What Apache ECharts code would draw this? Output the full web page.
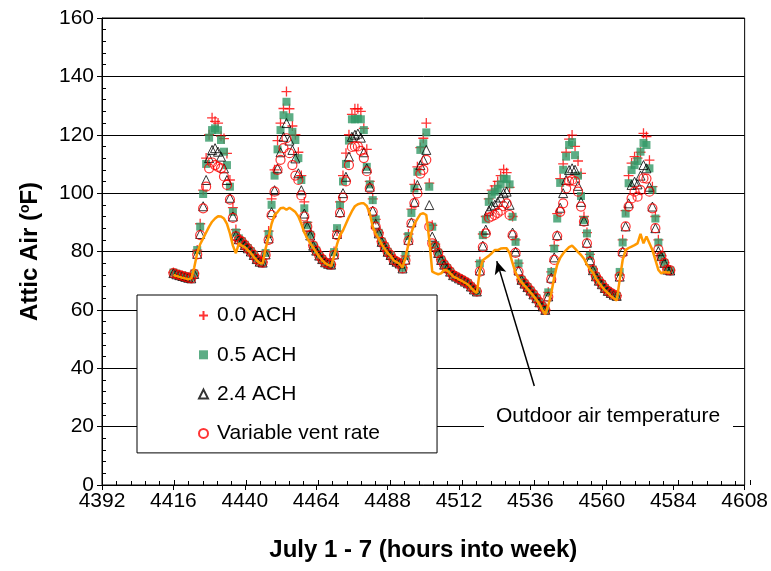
<!DOCTYPE html>
<html>
<head>
<meta charset="utf-8">
<script src="https://cdn.jsdelivr.net/npm/echarts@6/dist/echarts.min.js"></script>
<style>
  html, body { margin: 0; padding: 0; background: #fff; }
  #chart { width: 771px; height: 571px; }
</style>
</head>
<body>
<div id="chart"></div>
<script>
// ---------------- data (hourly, first point at hour 4416) ----------------
const firstHour = 4416;
const xMin = 4392, xMax = 4608, xStep = 24;
const yMin = 0, yMax = 160, yStep = 20;
const seriesNames = ['0.0 ACH', '0.5 ACH', '2.4 ACH', 'Variable vent rate'];
const outdoorName = 'Outdoor air temperature';

// 0.0 ACH (red +)
const ach00 = [
  72.8,72.4,72.0,71.8,71.5,71.2,71.0,72.6,80.5,89.5,101.0,112.0,120.0,125.8,124.6,124.0,119.5,118.7,113.6,104.5,95.0,87.5,84.8,83.6,
  82.4,81.3,80.2,79.0,77.6,76.7,76.4,80.0,87.0,98.0,108.0,118.0,124.0,129.0,134.8,128.9,123.0,120.0,114.0,106.0,97.0,90.0,86.0,82.2,
  80.4,78.7,77.5,76.4,75.9,75.6,80.0,87.0,97.0,106.0,113.7,120.0,127.0,128.9,128.9,128.0,122.2,115.0,104.0,98.0,91.0,86.5,83.5,81.9,
  80.0,78.9,77.2,76.6,76.0,74.5,78.5,86.0,94.5,103.0,109.0,115.6,118.8,124.0,103.4,89.0,82.5,79.8,77.3,75.6,74.4,73.2,72.0,71.5,
  70.9,70.4,69.8,69.2,68.1,67.1,66.4,76.5,86.0,92.0,98.0,101.0,102.5,104.0,106.0,108.1,107.0,102.0,92.0,84.0,76.0,70.4,69.1,67.9,
  66.7,65.4,64.1,62.7,61.3,60.1,66.0,73.0,82.0,93.0,105.0,110.0,114.0,118.5,119.9,116.0,111.0,106.8,92.0,86.5,79.0,74.0,71.6,70.1,
  68.9,67.6,66.6,65.9,65.3,64.9,72.0,84.0,94.0,106.0,110.3,112.5,112.0,114.0,120.5,119.4,111.3,102.2,92.0,84.0,78.6,76.2,74.0,73.6
];
// 0.5 ACH (green squares)
const ach05 = [
  72.8,72.4,72.0,71.8,71.5,71.2,71.0,72.5,80.5,88.5,99.7,110.0,119.0,121.6,122.2,121.6,118.2,114.2,109.6,102.2,93.6,86.5,84.5,83.5,
  82.3,81.2,80.1,78.9,77.5,76.6,76.3,79.5,86.0,96.0,106.0,115.0,121.6,126.7,131.3,126.0,121.0,118.2,112.0,104.5,94.8,89.0,85.7,82.0,
  80.3,78.6,77.4,76.3,75.8,75.5,79.8,88.0,96.0,104.0,110.0,118.0,125.3,125.3,125.5,125.3,121.6,109.0,103.0,97.6,91.0,86.4,83.4,81.8,
  79.9,78.8,77.1,76.5,75.9,74.4,78.5,85.3,93.2,101.6,107.3,114.8,117.1,120.8,102.2,88.5,82.2,79.6,77.2,75.5,74.3,73.1,71.9,71.4,
  70.8,70.3,69.7,69.1,68.0,67.0,66.3,75.9,85.6,91.0,97.0,99.5,100.5,101.5,103.0,105.0,104.8,103.0,91.9,83.3,75.9,70.3,69.0,67.8,
  66.6,65.3,64.0,62.6,61.2,60.0,66.0,73.0,81.0,91.3,103.5,108.0,112.5,116.5,117.5,113.0,106.0,99.0,90.8,86.2,78.5,73.8,71.5,70.0,
  68.8,67.5,66.5,65.8,65.2,64.8,73.0,83.1,93.0,103.4,107.9,109.6,111.0,114.2,117.2,116.5,108.5,101.1,91.3,83.1,78.5,76.1,73.9,73.5
];
// 2.4 ACH (black triangles)
const ach24 = [
  72.6,72.2,71.9,71.6,71.3,71.0,70.8,72.3,79.2,86.0,95.5,104.5,112.0,114.8,115.4,114.2,112.5,108.5,104.5,98.4,92.0,85.5,84.2,83.4,
  82.2,81.1,80.0,78.8,77.4,76.5,76.2,79.0,84.5,93.5,101.0,108.5,114.0,119.3,124.0,118.0,114.8,111.9,106.8,101.0,93.0,88.5,85.5,82.0,
  80.3,78.6,77.4,76.3,75.8,75.5,79.0,86.0,93.5,100.0,105.6,112.5,119.3,120.0,120.4,119.0,114.0,108.5,102.2,94.0,89.5,86.2,83.3,81.7,
  79.9,78.8,77.1,76.5,75.9,74.2,77.2,84.0,90.0,97.0,102.8,109.6,111.4,114.8,95.9,85.1,81.7,79.5,77.1,75.5,74.3,73.1,71.9,71.4,
  70.8,70.3,69.7,69.1,68.0,67.0,66.3,73.5,82.0,87.5,94.0,95.5,96.0,97.0,98.5,100.0,100.5,96.0,86.5,80.0,73.5,70.3,69.0,67.8,
  66.6,65.3,64.0,62.6,61.2,60.0,64.6,71.0,78.0,85.6,95.0,100.0,104.5,107.9,108.5,108.0,102.5,97.0,90.5,83.0,77.0,73.6,71.5,70.0,
  68.8,67.5,66.5,65.8,65.2,64.8,71.4,80.1,88.6,96.5,102.8,103.9,103.0,106.0,109.6,108.5,102.2,95.4,88.0,80.1,78.4,76.1,73.8,73.5
];
// Variable vent rate (red open circles)
const varVent = [
  72.6,72.2,71.9,71.6,71.3,71.0,70.8,72.3,79.0,85.6,94.8,102.2,108.5,110.5,109.6,109.0,108.5,105.7,102.8,97.8,91.5,85.2,84.0,83.4,
  82.2,81.1,80.0,78.8,77.4,76.5,76.2,78.8,84.0,92.5,100.5,108.0,111.4,115.4,118.8,113.7,109.6,106.0,104.5,99.2,92.0,88.5,85.5,82.0,
  80.3,78.6,77.4,76.3,75.8,75.5,78.8,85.6,93.2,98.5,104.0,109.6,115.8,116.0,116.0,114.5,112.0,107.5,101.6,93.6,88.5,86.2,83.3,81.7,
  79.9,78.8,77.1,76.5,75.9,74.2,77.0,83.6,89.6,96.6,99.9,106.7,108.0,111.4,88.5,82.8,81.7,79.5,77.1,75.5,74.3,73.1,71.9,71.4,
  70.8,70.3,69.7,69.1,68.0,67.0,66.3,73.1,81.5,86.2,91.6,92.0,92.5,93.2,94.0,95.5,96.5,92.5,85.6,79.5,73.1,70.3,69.0,67.8,
  66.6,65.3,64.0,62.6,61.2,60.0,64.5,70.5,77.1,85.3,93.6,96.5,101.6,104.0,104.5,104.0,100.5,95.4,90.2,82.8,76.5,73.6,71.5,70.0,
  68.8,67.5,66.5,65.8,65.2,64.8,71.4,79.5,88.6,95.4,98.2,100.5,98.8,101.0,105.1,105.0,100.5,94.8,88.0,80.7,78.4,76.1,73.8,73.5
];
// Outdoor air temperature (orange line)
const outdoor = [
  72.0,71.6,71.3,71.0,70.8,70.5,70.8,74.5,79.5,82.5,84.5,86.5,88.5,90.2,91.3,92.1,92.0,91.3,89.5,86.2,82.0,79.4,82.8,82.0,
  81.5,80.5,79.5,78.2,77.0,76.0,76.0,81.0,85.0,89.5,92.5,93.5,94.8,95.0,94.3,95.0,94.3,93.5,92.0,89.5,86.5,84.5,82.8,81.3,
  79.8,78.2,77.0,76.0,75.4,75.0,78.5,82.5,85.5,87.2,89.5,91.8,93.8,95.5,96.2,96.5,96.5,95.6,93.0,88.5,86.0,84.5,82.5,81.0,
  79.5,78.5,77.0,76.4,75.8,74.5,78.0,82.5,86.5,89.5,91.2,92.8,93.1,92.5,84.0,73.1,72.6,72.2,72.5,73.7,73.5,72.6,71.5,71.0,
  70.4,69.9,69.3,68.7,67.6,66.5,65.8,73.5,77.0,77.8,78.5,79.4,80.5,80.5,81.0,81.1,81.1,79.5,76.0,72.8,70.8,69.5,68.3,67.2,
  66.0,64.8,63.5,62.0,60.0,58.5,61.5,65.7,71.2,75.5,77.8,79.3,80.5,81.5,82.0,81.0,79.8,78.8,77.5,75.5,74.0,72.8,70.8,69.3,
  68.0,66.8,65.8,64.8,64.0,63.2,70.3,77.1,80.5,81.2,81.7,82.2,82.8,86.0,82.8,85.1,82.8,80.5,77.1,73.7,72.5,73.0,72.8,72.8
];
// annotation arrow (data coordinates): tail -> tip
const arrowTail = [4537.3, 33.9];
const arrowTip = [4524.7, 76.7];

// ---------------- chart ----------------
const font = "'Liberation Sans', Arial, sans-serif";
const toPoints = arr => arr.map((v, i) => [firstHour + i, v]);
const box = { left: 102, right: 21, top: 18, bottom: 86 };

const scatterBase = { type: 'scatter', xAxisIndex: 0, yAxisIndex: 0, symbolKeepAspect: true, silent: true };

const option = {
  animation: false,
  backgroundColor: '#fff',
  textStyle: { fontFamily: font },
  grid: [
    Object.assign({ show: true, borderColor: '#000', borderWidth: 1, backgroundColor: 'transparent' }, box),
    Object.assign({ show: false }, box)
  ],
  xAxis: [
    {
      gridIndex: 0, type: 'value', min: xMin, max: xMax, interval: xStep,
      axisLine: { show: true, onZero: false, lineStyle: { color: '#000', width: 1 } },
      axisTick: { show: true, inside: false, length: 5, lineStyle: { color: '#000' } },
      axisLabel: { fontSize: 21, color: '#000', margin: 6, fontFamily: font, formatter: v => String(v) },
      splitLine: { show: false },
      name: 'July 1 - 7 (hours into week)', nameLocation: 'middle', nameGap: 53,
      nameTextStyle: { fontSize: 24, fontWeight: 'bold', color: '#000', fontFamily: font }
    },
    {
      gridIndex: 1, type: 'value', min: xMin, max: xMax, interval: xStep,
      axisLine: { show: false },
      axisTick: { show: true, inside: true, length: 5, lineStyle: { color: '#000' } },
      minorTick: { show: true, splitNumber: 5, length: 4, lineStyle: { color: '#000' } },
      axisLabel: { show: false }, splitLine: { show: false }
    }
  ],
  yAxis: [
    {
      gridIndex: 0, type: 'value', min: yMin, max: yMax, interval: yStep,
      axisLine: { show: true, onZero: false, lineStyle: { color: '#000', width: 1 } },
      axisTick: { show: true, inside: false, length: 5, lineStyle: { color: '#000' } },
      axisLabel: { fontSize: 21, color: '#000', margin: 8, fontFamily: font, formatter: v => String(v) },
      splitLine: { show: true, lineStyle: { color: '#000', width: 1 } },
      name: 'Attic Air ({s|o}F)', nameLocation: 'middle', nameGap: 60, nameRotate: 90,
      nameTextStyle: {
        fontSize: 24, fontWeight: 'bold', color: '#000', fontFamily: font,
        rich: { s: { fontSize: 14, fontWeight: 'bold', color: '#000', fontFamily: font, verticalAlign: 'top' } }
      }
    },
    {
      gridIndex: 1, type: 'value', min: yMin, max: yMax, interval: yStep,
      axisLine: { show: false },
      axisTick: { show: true, inside: true, length: 5, lineStyle: { color: '#000' } },
      minorTick: { show: true, splitNumber: 5, length: 4, lineStyle: { color: '#000' } },
      axisLabel: { show: false }, splitLine: { show: false }
    }
  ],
  legend: {
    data: seriesNames,
    orient: 'vertical', left: 137, top: 295,
    padding: [10, 57, 9, 61],
    itemGap: 18.3, itemWidth: 9, itemHeight: 9,
    backgroundColor: '#fff', borderColor: '#000', borderWidth: 1,
    textStyle: { fontSize: 21, color: '#000', fontFamily: font, padding: [0, 0, 0, 4] },
    selectedMode: false
  },
  graphic: [
    { type: 'rect', z: 50, silent: true, shape: { x: 484, y: 402, width: 249, height: 30 }, style: { fill: '#fff' } },
    { type: 'text', z: 51, silent: true, x: 608, y: 416,
      style: { text: outdoorName, fontSize: 21, fontFamily: font, fill: '#000', align: 'center', verticalAlign: 'middle' } }
  ],
  series: [
    {
      name: outdoorName, type: 'line', xAxisIndex: 0, yAxisIndex: 0,
      data: toPoints(outdoor), showSymbol: false, symbol: 'none', silent: true,
      lineStyle: { color: '#FF9900', width: 2.5 }, itemStyle: { color: '#FF9900' },
      markLine: {
        silent: true, animation: false,
        symbol: ['none', 'arrow'], symbolSize: [9, 13],
        label: { show: false },
        lineStyle: { color: '#000', width: 1.5, type: 'solid' },
        data: [[{ coord: arrowTail }, { coord: arrowTip }]]
      }
    },
    Object.assign({}, scatterBase, {
      name: seriesNames[0], data: toPoints(ach00),
      symbol: 'path://M0,5L10,5M5,0L5,10', symbolSize: 10,
      itemStyle: { color: 'rgba(0,0,0,0)', borderColor: '#FF0000', borderWidth: 1.3 }
    }),
    Object.assign({}, scatterBase, {
      name: seriesNames[1], data: toPoints(ach05),
      symbol: 'rect', symbolSize: 8,
      itemStyle: { color: '#339966' }
    }),
    Object.assign({}, scatterBase, {
      name: seriesNames[2], data: toPoints(ach24),
      symbol: 'triangle', symbolSize: 9,
      itemStyle: { color: 'rgba(0,0,0,0)', borderColor: '#000', borderWidth: 1 }
    }),
    Object.assign({}, scatterBase, {
      name: seriesNames[3], data: toPoints(varVent),
      symbol: 'circle', symbolSize: 9,
      itemStyle: { color: 'rgba(0,0,0,0)', borderColor: '#FF0000', borderWidth: 1.2 }
    })
  ]
};

const chart = echarts.init(document.getElementById('chart'), null, { renderer: 'canvas' });
chart.setOption(option);
</script>
</body>
</html>
